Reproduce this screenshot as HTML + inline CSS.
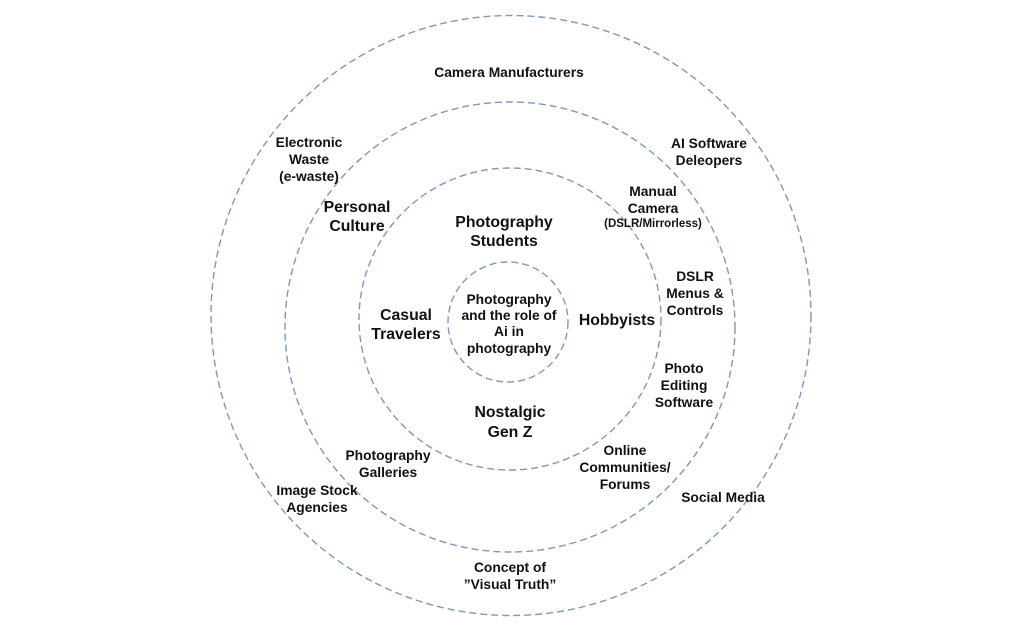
<!DOCTYPE html>
<html><head><meta charset="utf-8"><style>
html,body{margin:0;padding:0;background:#fff;width:1024px;height:632px;overflow:hidden}
svg text{font-family:"Liberation Sans",sans-serif;font-weight:bold;fill:#111;text-anchor:middle}
.s{font-size:13.8px}.m{font-size:15.8px}.x{font-size:11.5px}
</style></head><body>
<svg width="1024" height="632" viewBox="0 0 1024 632">
<g fill="none" stroke="#7f97b8" stroke-width="1.4" stroke-dasharray="7 4">
<circle cx="511" cy="315.5" r="300"/>
<circle cx="510" cy="327" r="225"/>
<circle cx="510" cy="319" r="151"/>
<circle cx="508" cy="322" r="60"/>
</g>
<text class="s" x="509" y="77">Camera Manufacturers</text>
<text class="s" x="309" y="147">Electronic</text><text class="s" x="309" y="164">Waste</text><text class="s" x="309" y="181">(e-waste)</text>
<text class="s" x="709" y="148">AI Software</text><text class="s" x="709" y="165">Deleopers</text>
<text class="s" x="653" y="196">Manual</text><text class="s" x="653" y="213">Camera</text><text class="x" x="653" y="227">(DSLR/Mirrorless)</text>
<text class="m" x="357" y="212">Personal</text><text class="m" x="357" y="231">Culture</text>
<text class="m" x="504" y="227">Photography</text><text class="m" x="504" y="246">Students</text>
<text class="s" x="695" y="281">DSLR</text><text class="s" x="695" y="298">Menus &amp;</text><text class="s" x="695" y="315">Controls</text>
<text class="m" x="406" y="320">Casual</text><text class="m" x="406" y="339">Travelers</text>
<text class="s" x="509" y="304">Photography</text><text class="s" x="509" y="320">and the role of</text><text class="s" x="509" y="336">Ai in</text><text class="s" x="509" y="353">photography</text>
<text class="m" x="617" y="325">Hobbyists</text>
<text class="s" x="684" y="373">Photo</text><text class="s" x="684" y="390">Editing</text><text class="s" x="684" y="407">Software</text>
<text class="m" x="510" y="417">Nostalgic</text><text class="m" x="510" y="437">Gen Z</text>
<text class="s" x="388" y="460">Photography</text><text class="s" x="388" y="477">Galleries</text>
<text class="s" x="625" y="455">Online</text><text class="s" x="625" y="472">Communities/</text><text class="s" x="625" y="489">Forums</text>
<text class="s" x="317" y="495">Image Stock</text><text class="s" x="317" y="512">Agencies</text>
<text class="s" x="723" y="502">Social Media</text>
<text class="s" x="510" y="572">Concept of</text><text class="s" x="510" y="589">”Visual Truth”</text>
</svg>
</body></html>
